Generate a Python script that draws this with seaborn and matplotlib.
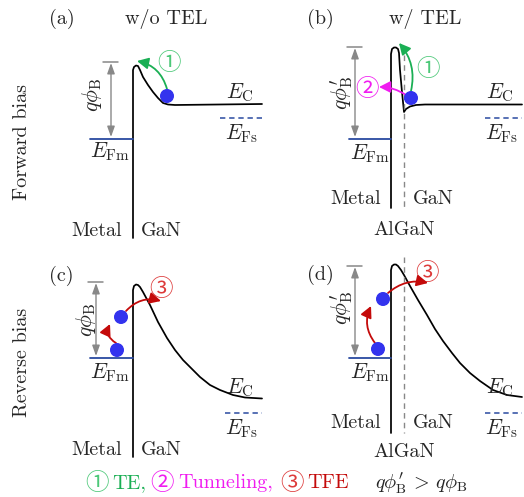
import matplotlib
matplotlib.use("Agg")
import matplotlib.pyplot as plt
import seaborn as sns
from matplotlib.patches import FancyArrowPatch, Circle

sns.set_theme(style="white")
plt.rcParams["font.family"] = ["cmr10", "Noto Sans CJK SC"]
plt.rcParams["mathtext.fontset"] = "cm"
plt.rcParams["axes.unicode_minus"] = False

# ---- schematic data (pixel-space points) ----
band_a_x = [133, 133, 134, 136, 138, 140, 143, 148, 153, 158, 163, 168, 175, 262]
band_a_y = [238, 70, 67, 65.5, 66, 70, 77, 85, 92, 98, 103, 104.5, 105, 104]
band_b_x = [391, 391, 392, 394, 396, 398, 399, 400, 402, 404, 406, 410, 416, 425, 522]
band_b_y = [208, 54, 49, 47.5, 47.5, 49, 53, 70, 92, 112, 109, 106.5, 105, 104.5, 104.5]
band_c_x = [133, 133, 134, 136, 138, 140, 143, 150, 158, 167, 175, 183, 192, 200, 210, 220, 233, 245, 262]
band_c_y = [457, 290, 286, 284.5, 285, 287, 292, 305, 322, 338, 350, 360, 369, 377, 385, 390, 395, 397.5, 398.5]
band_d_x = [391, 391, 392, 394, 396, 398, 401, 404, 410, 418, 427, 435, 443, 452, 460, 470, 480, 493, 507, 522]
band_d_y = [433, 270, 266, 264.5, 264.5, 266, 270, 275, 286, 300, 315, 329, 341, 353, 363, 373, 381, 390, 395, 397]

efm_y = [139, 139, 358, 358]          # metal Fermi level (a, b, c, d)
efs_y = [118, 118, 413, 413]          # semiconductor Fermi level
panel_letters = ["(a)", "(b)", "(c)", "(d)"]
col_titles = ["w/o TEL", "w/ TEL"]
row_titles = ["Forward bias", "Reverse bias"]
QB = r"$q\phi_{\mathrm{B}}$"
QBP = r"$q\phi_{\mathrm{B}}^{\prime}$"
barrier_labels = [QB, QBP, QB, QBP]
legend_parts = ["TE,", "Tunneling,", "TFE"]
legend_marks = ["\u2460", "\u2461", "\u2462"]

GREEN = "#1aaf54"
GREEN_L = "#4cc878"
MAG = "#f01cf0"
RED = "#c40a0a"
RED_L = "#dd3a3a"
BLUE = "#3333ee"
NAVY = "#2a4aa0"
GRAY = "#888888"

FS = 14.5     # text size
MS = 15.5     # math size
CS = 17       # circled numbers

fig = plt.figure(figsize=(5.24, 4.97), dpi=100)
ax = fig.add_axes([0, 0, 1, 1])
ax.set_xlim(0, 524)
ax.set_ylim(497, 0)
ax.axis("off")

def line(xs, ys, **kw):
    sns.lineplot(x=xs, y=ys, sort=False, estimator=None, ax=ax, legend=False, **kw)

# bands
for bx, by in [(band_a_x, band_a_y), (band_b_x, band_b_y), (band_c_x, band_c_y), (band_d_x, band_d_y)]:
    line(bx, by, color="black", linewidth=1.25)

# AlGaN/GaN interface dashed lines
line([404, 404], [55, 208], color=GRAY, linewidth=1.0, linestyle=(0, (4, 3)))
line([404, 404], [257, 433], color=GRAY, linewidth=1.0, linestyle=(0, (4, 3)))

# Fermi levels
efm_x = [(90, 133), (349, 391), (90, 133), (349, 391)]
efs_x = [(220, 262), (485, 522), (225, 262), (485, 522)]
for i in range(4):
    line(list(efm_x[i]), [efm_y[i]] * 2, color=NAVY, linewidth=1.3)
    line(list(efs_x[i]), [efs_y[i]] * 2, color=NAVY, linewidth=1.1, linestyle=(0, (3.5, 2.5)))

# barrier height dimension arrows
dims = [(111, 62, 137), (355, 47, 137), (96, 282, 356), (355, 266, 356)]
for i, (xd, ytop, ybot) in enumerate(dims):
    line([xd - 8, xd + 7], [ytop, ytop], color=GRAY, linewidth=1.1)
    ax.add_patch(FancyArrowPatch((xd, ytop + 1), (xd, ybot), arrowstyle="<|-|>,head_length=0.7,head_width=0.25",
                                 mutation_scale=9, color=GRAY, linewidth=1.0, shrinkA=0, shrinkB=0))
lab_pos = [(92, 95), (342, 93), (86, 320), (342, 308)]
for i, (lx, ly) in enumerate(lab_pos):
    ax.text(lx, ly, barrier_labels[i], rotation=90, ha="center", va="center", fontsize=MS)

# electrons
for (cx, cy) in [(167, 96), (411, 98), (117, 350), (121, 317), (378, 349), (383, 299)]:
    ax.add_patch(Circle((cx, cy), 6.3, color=BLUE, zorder=5))

def arrow(p0, p1, rad, color):
    ax.add_patch(FancyArrowPatch(p0, p1, connectionstyle=f"arc3,rad={rad}",
                                 arrowstyle="-|>,head_length=0.75,head_width=0.38", mutation_scale=9,
                                 color=color, linewidth=1.3, shrinkA=0, shrinkB=0, zorder=4))

arrow((167, 89), (137, 61), 0.3, GREEN)
arrow((411, 91), (399, 43), 0.25, GREEN)
arrow((406, 95), (379, 87), 0.15, MAG)
arrow((116, 343), (110, 324), -0.45, RED)
arrow((126, 311), (161, 301), -0.3, RED)
arrow((375, 343), (371, 306), -0.3, RED)
arrow((388, 293), (428, 283), -0.25, RED)

circ_font = ["Noto Sans CJK SC"]
def circ(x, y, k, color):
    ax.text(x, y, legend_marks[k], color=color, fontsize=CS, ha="center", va="center", family=circ_font)

circ(169, 64, 0, GREEN_L)
circ(428, 70, 0, GREEN_L)
circ(367, 90, 1, MAG)
circ(161, 290, 2, RED_L)
circ(427, 273, 2, RED_L)

# panel letters, column titles, row titles
for (t, x, y) in zip(panel_letters, [62, 320, 61, 320], [19, 19, 276, 275]):
    ax.text(x, y, t, ha="center", va="center", fontsize=FS)
ax.text(166, 19, col_titles[0], ha="center", va="center", fontsize=FS)
ax.text(425, 19, col_titles[1], ha="center", va="center", fontsize=FS)
ax.text(22, 142, row_titles[0], rotation=90, ha="center", va="center", fontsize=FS)
ax.text(22, 362, row_titles[1], rotation=90, ha="center", va="center", fontsize=FS)

# energy labels
efm_lab = [(110, 152), (370, 154), (110, 373), (370, 373)]
ec_lab = [(240, 93), (500, 93), (240, 388), (500, 388)]
efs_lab = [(242, 134), (502, 134), (242, 429), (502, 429)]
for i in range(4):
    ax.text(*efm_lab[i], r"$E_\mathrm{Fm}$", ha="center", va="center", fontsize=MS)
    ax.text(*ec_lab[i], r"$E_\mathrm{C}$", ha="center", va="center", fontsize=MS)
    ax.text(*efs_lab[i], r"$E_\mathrm{Fs}$", ha="center", va="center", fontsize=MS)

# material labels
for (mx, gx, y) in [(97, 161, 231), (356, 433, 199), (97, 161, 450), (356, 433, 423)]:
    ax.text(mx, y, "Metal", ha="center", va="center", fontsize=FS)
    ax.text(gx, y, "GaN", ha="center", va="center", fontsize=FS)
ax.text(404, 230, "AlGaN", ha="center", va="center", fontsize=FS)
ax.text(404, 452, "AlGaN", ha="center", va="center", fontsize=FS)

# bottom legend
ly = 483
circ(97, ly, 0, GREEN_L)
ax.text(112, ly, legend_parts[0], color=GREEN, fontsize=FS, ha="left", va="center")
circ(162, ly, 1, MAG)
ax.text(178, ly, legend_parts[1], color=MAG, fontsize=FS, ha="left", va="center")
circ(292, ly, 2, RED_L)
ax.text(307, ly, legend_parts[2], color=RED, fontsize=FS, ha="left", va="center")
ax.text(375, ly, QBP + r"$\,>\,$" + QB, fontsize=MS - 1, ha="left", va="center")

fig.savefig("out.png", dpi=100)
